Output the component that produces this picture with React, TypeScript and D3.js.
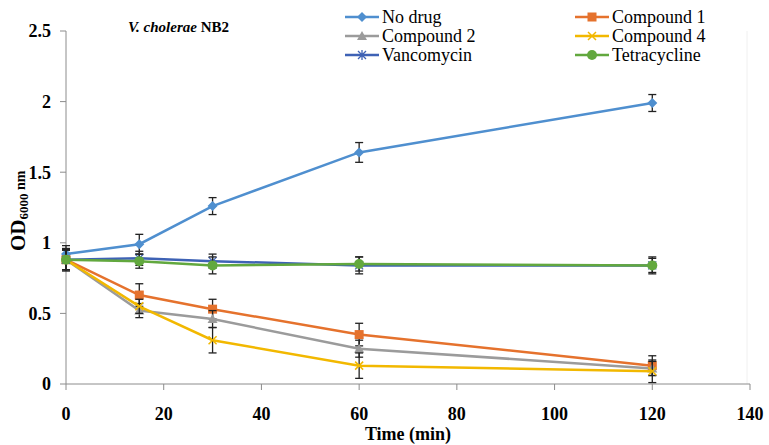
import React from "react";
import * as d3 from "d3";

// time points (min)
const times = [0, 15, 30, 60, 120];

const seriesNames = ["No drug", "Compound 1", "Compound 2", "Compound 4", "Vancomycin", "Tetracycline"];
const seriesColors = ["#4F8FCF", "#E5722D", "#9B9B9B", "#F2B800", "#3E62B5", "#62A83E"];
const seriesSymbols = ["diamond", "square", "triangle", "cross", "star", "circle"];

// OD600 values per series
const noDrug = [0.92, 0.99, 1.26, 1.64, 1.99];
const compound1 = [0.88, 0.63, 0.53, 0.35, 0.13];
const compound2 = [0.88, 0.52, 0.46, 0.25, 0.11];
const compound4 = [0.88, 0.55, 0.31, 0.13, 0.09];
const vancomycin = [0.88, 0.89, 0.87, 0.84, 0.84];
const tetracycline = [0.88, 0.87, 0.84, 0.85, 0.84];

// standard deviations
const noDrugErr = [0.06, 0.07, 0.06, 0.07, 0.06];
const compound1Err = [0.07, 0.08, 0.07, 0.08, 0.07];
const compound2Err = [0.07, 0.05, 0.06, 0.06, 0.05];
const compound4Err = [0.07, 0.05, 0.09, 0.09, 0.08];
const vancomycinErr = [0.08, 0.05, 0.05, 0.06, 0.06];
const tetracyclineErr = [0.07, 0.05, 0.06, 0.05, 0.05];

const xTicks = [0, 20, 40, 60, 80, 100, 120, 140];
const yTicks = [0, 0.5, 1, 1.5, 2, 2.5];

const values = [noDrug, compound1, compound2, compound4, vancomycin, tetracycline];
const errors = [noDrugErr, compound1Err, compound2Err, compound4Err, vancomycinErr, tetracyclineErr];

const W = 769, H = 445;
const left = 66, right = 750, top = 31, bottom = 384;
const serif = { fontFamily: "Liberation Serif, Times New Roman, serif" };

const Marker = ({ kind, x, y, color }: { kind: string; x: number; y: number; color: string }) => {
  if (kind === "diamond") {
    return <path d={`M${x},${y - 5}L${x + 5},${y}L${x},${y + 5}L${x - 5},${y}Z`} fill={color} />;
  }
  if (kind === "square") {
    return <rect x={x - 4.5} y={y - 4.5} width={9} height={9} fill={color} />;
  }
  if (kind === "triangle") {
    return <path d={`M${x},${y - 5}L${x + 5},${y + 4}L${x - 5},${y + 4}Z`} fill={color} />;
  }
  if (kind === "cross") {
    return (
      <path d={`M${x - 4},${y - 4}L${x + 4},${y + 4}M${x - 4},${y + 4}L${x + 4},${y - 4}`} stroke={color} strokeWidth={1.5} />
    );
  }
  if (kind === "star") {
    return (
      <path
        d={`M${x - 4},${y - 4}L${x + 4},${y + 4}M${x - 4},${y + 4}L${x + 4},${y - 4}M${x},${y - 5}L${x},${y + 5}`}
        stroke={color}
        strokeWidth={1.3}
      />
    );
  }
  return <circle cx={x} cy={y} r={5} fill={color} />;
};

export default function App() {
  const x = d3.scaleLinear().domain([0, 140]).range([left, right]);
  const y = d3.scaleLinear().domain([0, 2.5]).range([bottom, top]);
  const line = d3
    .line<number>()
    .x((_, i) => x(times[i]))
    .y((d) => y(d));

  const legendCols = [345, 575];
  const legendRows = [17, 36, 55];

  return (
    <svg width={W} height={H} style={{ position: "absolute", left: 0, top: 0, background: "#fff" }}>
      <rect width={W} height={H} fill="#fff" />

      {/* faint plot-area edge */}
      <line x1={right - 3} x2={right - 3} y1={top} y2={bottom} stroke="#f0f0f0" />

      {/* axes */}
      <line x1={left} x2={left} y1={top} y2={bottom} stroke="#8c8c8c" strokeWidth={1} />
      <line x1={left} x2={right} y1={bottom} y2={bottom} stroke="#8c8c8c" strokeWidth={1} />
      {yTicks.map((t) => (
        <g key={"y" + t}>
          <line x1={left - 6} x2={left} y1={y(t)} y2={y(t)} stroke="#8c8c8c" />
          <text x={51} y={y(t)} dy="0.35em" textAnchor="end" style={serif} fontWeight="bold" fontSize={18}>
            {t}
          </text>
        </g>
      ))}
      {xTicks.map((t) => (
        <g key={"x" + t}>
          <line x1={x(t)} x2={x(t)} y1={bottom} y2={bottom + 6} stroke="#8c8c8c" />
          <text x={x(t)} y={420} textAnchor="middle" style={serif} fontWeight="bold" fontSize={18}>
            {t}
          </text>
        </g>
      ))}

      {/* axis titles */}
      <text x={408} y={440} textAnchor="middle" style={serif} fontWeight="bold" fontSize={18}>
        Time (min)
      </text>
      <text transform="translate(25,251) rotate(-90)" textAnchor="start" style={serif} fontWeight="bold" fontSize={21}>
        OD<tspan fontSize={13} dy={3}>6000</tspan>
        <tspan fontSize={14} dy={-3}> nm</tspan>
      </text>

      {/* title */}
      <text x={128} y={32} style={serif} fontWeight="bold" fontSize={15}>
        <tspan fontStyle="italic">V. cholerae</tspan> NB2
      </text>

      {/* series */}
      {values.map((vals, s) => (
        <g key={seriesNames[s]}>
          <path d={line(vals) || ""} fill="none" stroke={seriesColors[s]} strokeWidth={2.5} />
          {vals.map((v, i) => {
            const e = errors[s][i];
            const cx = x(times[i]);
            return (
              <g key={i} stroke="#222" strokeWidth={1.3}>
                <line x1={cx} x2={cx} y1={y(v - e)} y2={y(v + e)} />
                <line x1={cx - 4} x2={cx + 4} y1={y(v - e)} y2={y(v - e)} />
                <line x1={cx - 4} x2={cx + 4} y1={y(v + e)} y2={y(v + e)} />
              </g>
            );
          })}
          {vals.map((v, i) => (
            <Marker key={"m" + i} kind={seriesSymbols[s]} x={x(times[i])} y={y(v)} color={seriesColors[s]} />
          ))}
        </g>
      ))}

      {/* legend */}
      {seriesNames.map((name, s) => {
        const lx = legendCols[s % 2];
        const ly = legendRows[Math.floor(s / 2)];
        return (
          <g key={"lg" + name}>
            <line x1={lx} x2={lx + 34} y1={ly} y2={ly} stroke={seriesColors[s]} strokeWidth={2.5} />
            <Marker kind={seriesSymbols[s]} x={lx + 17} y={ly} color={seriesColors[s]} />
            <text x={lx + 37} y={ly} dy="0.35em" style={serif} fontSize={18}>
              {name}
            </text>
          </g>
        );
      })}
    </svg>
  );
}
